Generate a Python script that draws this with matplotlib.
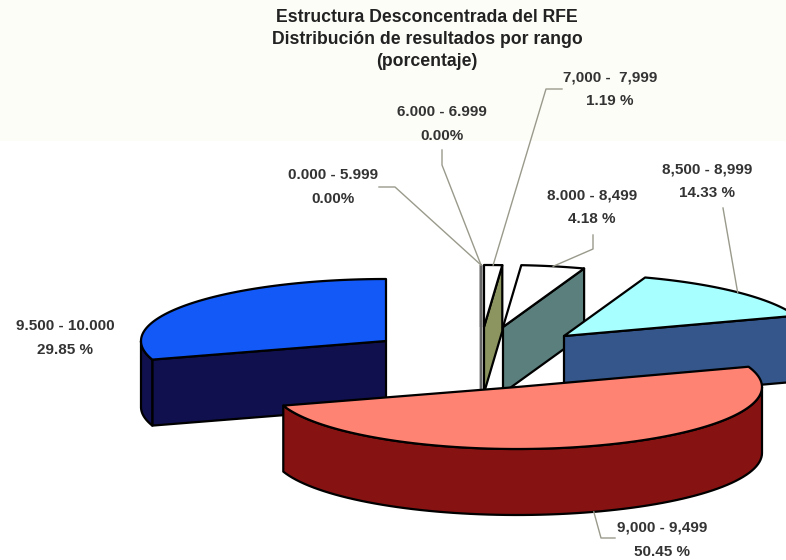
import numpy as np
import matplotlib
matplotlib.use('Agg')
import matplotlib.pyplot as plt
from matplotlib.patches import Polygon, Rectangle

plt.rcParams['font.family'] = ['Liberation Sans', 'DejaVu Sans']

# Data
ranges = ['0.000 - 5.999', '6.000 - 6.999', '7,000 -  7,999', '8.000 - 8,499',
          '8,500 - 8,999', '9,000 - 9,499', '9.500 - 10.000']
shares = [0.0, 0.0, 1.19, 4.18, 14.33, 50.45, 29.85]
share_labels = ['0.00%', '0.00%', '1.19 %', '4.18 %', '14.33 %', '50.45 %', '29.85 %']

title_lines = ['Estructura Desconcentrada del RFE',
               'Distribución de resultados por rango',
               '(porcentaje)']

# Look of the pie, in pixels
RX, RY, DEPTH = 245, 62, 66
apex = [(481, 327), (481, 327), (484, 327), (503, 327), (564, 336), (517, 387), (386, 341)]
top_colors = ['white', 'white', 'white', 'white', '#A8FFFF', '#FF8373', '#1259F8']
side_colors = ['#666666', '#666666', '#8C9560', '#5A7F7C', '#34568A', '#861212', '#10104F']
edge_colors = ['#666666', '#666666', 'black', 'black', 'black', 'black', 'black']
draw_order = [0, 1, 2, 3, 4, 6, 5]

# Label centres and leader line elbows
label_xy = [(333, 175), (442, 112), (610, 77), (592, 195), (707, 169), (662, 528), (65, 326)]
elbows = [[(395, 187), (379, 187)],
          [(442, 165), (442, 150)],
          [(546, 89), (562, 89)],
          [(593, 249), (593, 235)],
          [(723, 208)],
          [(601, 538), (615, 538)],
          None]


def rim(i, deg):
    t = np.radians(deg)
    return apex[i][0] + RX * np.sin(t), apex[i][1] - RY * np.cos(t)


def draw_slice(ax, i, start, end):
    def poly(pts, color):
        ax.add_patch(Polygon(pts, closed=True, facecolor=color, edgecolor=edge_colors[i],
                             linewidth=1.6, joinstyle='round'))

    # radial cut faces
    for deg, visible in [(start, 180 < start < 360), (end, 0 <= end <= 180)]:
        if visible:
            x, y = rim(i, deg)
            ax_pts = [apex[i], (x, y), (x, y + DEPTH), (apex[i][0], apex[i][1] + DEPTH)]
            poly(ax_pts, side_colors[i])

    # outer wall, only the front half shows
    lo, hi = max(start, 90), min(end, 270)
    if hi > lo:
        degs = np.linspace(lo, hi, 80)
        upper = [rim(i, d) for d in degs]
        lower = [(x, y + DEPTH) for x, y in upper[::-1]]
        poly(upper + lower, side_colors[i])

    # top face
    degs = np.linspace(start, end, 120)
    poly([apex[i]] + [rim(i, d) for d in degs], top_colors[i])


fig = plt.figure(figsize=(7.86, 5.6), dpi=100)
ax = fig.add_axes([0, 0, 1, 1])
ax.set_xlim(0, 786)
ax.set_ylim(560, 0)
ax.axis('off')

ax.add_patch(Rectangle((0, 0), 786, 141, facecolor='#FDFDF8', edgecolor='none'))

bounds = np.concatenate([[0], np.cumsum(shares)]) * 360 / sum(shares)
for i in draw_order:
    draw_slice(ax, i, bounds[i], bounds[i + 1])

# leader lines
for i, elbow in enumerate(elbows):
    if elbow is None:
        continue
    mid = (bounds[i] + bounds[i + 1]) / 2
    x, y = rim(i, mid)
    if 90 < mid < 270:
        y += DEPTH
    pts = [(x, y)] + elbow
    ax.plot([p[0] for p in pts], [p[1] for p in pts], color='#9A9A8C', lw=1.0, zorder=5)

for line, y in zip(title_lines, [18, 40, 62]):
    ax.text(427, y, line, ha='center', va='center', fontsize=12.7, fontweight='bold', color='#222222')

for name, share, (x, y) in zip(ranges, share_labels, label_xy):
    ax.text(x, y, name, ha='center', va='center', fontsize=11, fontweight='bold', color='#333333')
    ax.text(x, y + 24, share, ha='center', va='center', fontsize=11, fontweight='bold', color='#333333')

fig.savefig('out.png', dpi=100)
